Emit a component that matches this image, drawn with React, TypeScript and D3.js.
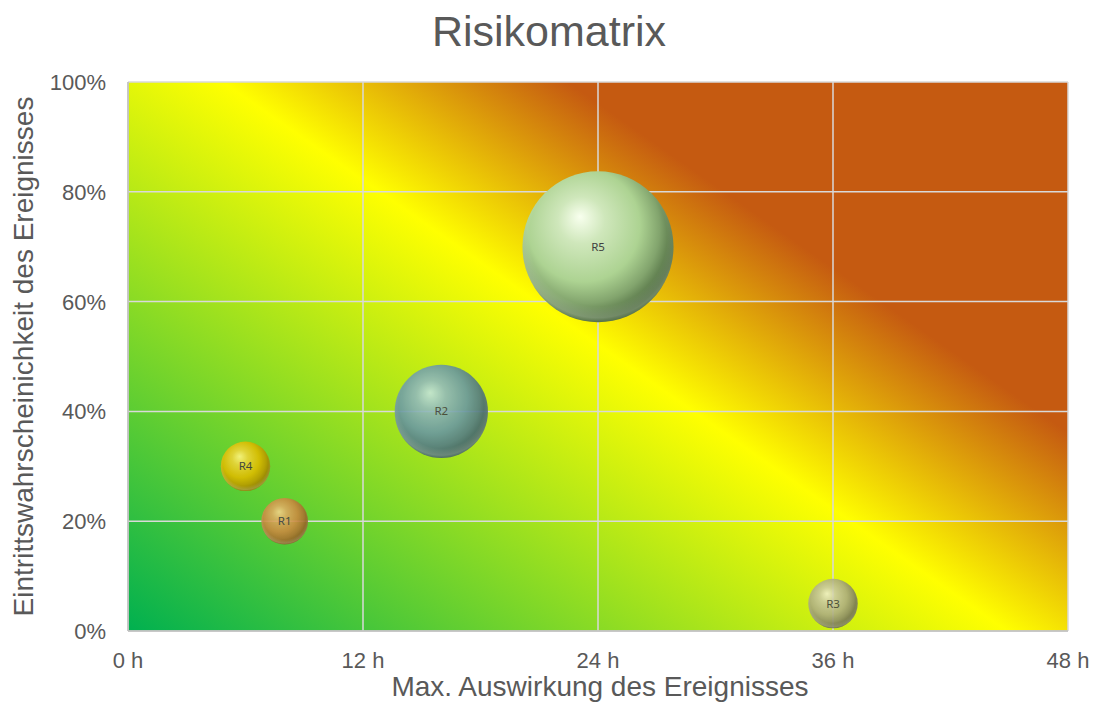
import * as d3 from 'd3';

// risk data
const riskNames = ['R1', 'R2', 'R3', 'R4', 'R5'];
const impactHours = [8, 16, 36, 6, 24];
const probability = [0.2, 0.4, 0.05, 0.3, 0.7];
const riskScore = [1.6, 6.4, 1.8, 1.8, 16.8];

const xTicks = [0, 12, 24, 36, 48];
const yTicks = [0, 0.2, 0.4, 0.6, 0.8, 1];

// sphere shading per bubble: highlight, base, shadow
const bubbleShades: string[][] = [
  ['#f3d58a', '#c98a40', '#86581f'],
  ['#c4e6dc', '#6a98a2', '#3b5a62'],
  ['#f0f0cc', '#adad80', '#66664a'],
  ['#fcf480', '#d9bc00', '#927a00'],
  ['#f8ffee', '#add392', '#4d6a3f'],
];
const bubbleOpacity = [0.9, 0.9, 0.9, 0.93, 1];

const W = 1097;
const H = 702;
const margin = { top: 82, right: 29, bottom: 71, left: 128 };
const textColor = '#595959';
const font = '"Liberation Sans", Arial, sans-serif';

export default function App() {
  const x = d3.scaleLinear().domain([0, 48]).range([margin.left, W - margin.right]);
  const y = d3.scaleLinear().domain([0, 1]).range([H - margin.bottom, margin.top]);
  const r = d3.scaleSqrt().domain([0, d3.max(riskScore)!]).range([0, 75.5]);
  const pct = d3.format('.0%');

  const x0 = x(0), x1 = x(48), y0 = y(0), y1 = y(1);

  // diagonal background: green bottom-left -> yellow -> orange top-right
  const gx1 = x0, gy1 = y0;
  const gx2 = x0 + 0.7 * 810, gy2 = y0 - 810;

  const order = d3.range(riskNames.length);

  return (
    <svg width={W} height={H} style={{ position: 'absolute', left: 0, top: 0, background: '#fff' }}>
      <defs>
        <linearGradient id="bg" gradientUnits="userSpaceOnUse" x1={gx1} y1={gy1} x2={gx2} y2={gy2}>
          <stop offset="0" stopColor="#00b050" />
          <stop offset="0.51" stopColor="#ffff00" />
          <stop offset="0.71" stopColor="#c55a11" />
          <stop offset="1" stopColor="#c55a11" />
        </linearGradient>
        {order.map(i => {
          const [hi, base, dark] = bubbleShades[i];
          return (
            <radialGradient key={i} id={`b${i}`} cx="42%" cy="40%" r="62%" fx="38%" fy="30%">
              <stop offset="0" stopColor={hi} />
              <stop offset="0.25" stopColor={d3.interpolateRgb(hi, base)(0.55)} />
              <stop offset="0.6" stopColor={base} />
              <stop offset="0.8" stopColor={d3.interpolateRgb(base, dark)(0.45)} />
              <stop offset="0.97" stopColor={dark} />
              <stop offset="1" stopColor={dark} />
            </radialGradient>
          );
        })}
        <radialGradient id="rim" cx="50%" cy="44%" r="57%">
          <stop offset="0.8" stopColor="#ffffff" stopOpacity="0" />
          <stop offset="0.93" stopColor="#ffffff" stopOpacity="0.2" />
          <stop offset="1" stopColor="#ffffff" stopOpacity="0" />
        </radialGradient>
      </defs>

      <rect x={x0} y={y1} width={x1 - x0} height={y0 - y1} fill="url(#bg)" />

      <g stroke="#d9d9d9" strokeWidth={1.5}>
        {xTicks.map(t => (
          <line key={`gx${t}`} x1={x(t)} x2={x(t)} y1={y1} y2={y0} />
        ))}
        {yTicks.map(t => (
          <line key={`gy${t}`} x1={x0} x2={x1} y1={y(t)} y2={y(t)} />
        ))}
      </g>
      <line x1={x0} x2={x0} y1={y1} y2={y0} stroke="#bfbfbf" strokeWidth={1.5} />
      <line x1={x0} x2={x1} y1={y0} y2={y0} stroke="#bfbfbf" strokeWidth={1.5} />

      {order.map(i => {
        const cx = x(impactHours[i]);
        const cy = y(probability[i]);
        const rad = r(riskScore[i]);
        return (
          <g key={riskNames[i]} opacity={bubbleOpacity[i]}>
            <circle cx={cx} cy={cy} r={rad} fill={`url(#b${i})`} />
            <circle cx={cx} cy={cy} r={rad} fill="url(#rim)" />
            <text x={cx} y={cy + 4} textAnchor="middle" fontSize={11.5} fill="#404040"
              fontFamily='"Noto Sans", "Open Sans", sans-serif'>{riskNames[i]}</text>
          </g>
        );
      })}

      <g fontFamily={font} fill={textColor}>
        {xTicks.map(t => (
          <text key={`tx${t}`} x={x(t)} y={668} textAnchor="middle" fontSize={22}>{`${t} h`}</text>
        ))}
        {yTicks.map(t => (
          <text key={`ty${t}`} x={106} y={y(t) + 8} textAnchor="end" fontSize={22}>{pct(t)}</text>
        ))}
        <text x={549} y={46} textAnchor="middle" fontSize={43}>Risikomatrix</text>
        <text x={600} y={696} textAnchor="middle" fontSize={28}>Max. Auswirkung des Ereignisses</text>
        <text transform={`translate(33, ${(y0 + y1) / 2}) rotate(-90)`} textAnchor="middle" fontSize={28}>
          Eintrittswahrscheinichkeit des Ereignisses
        </text>
      </g>
    </svg>
  );
}
